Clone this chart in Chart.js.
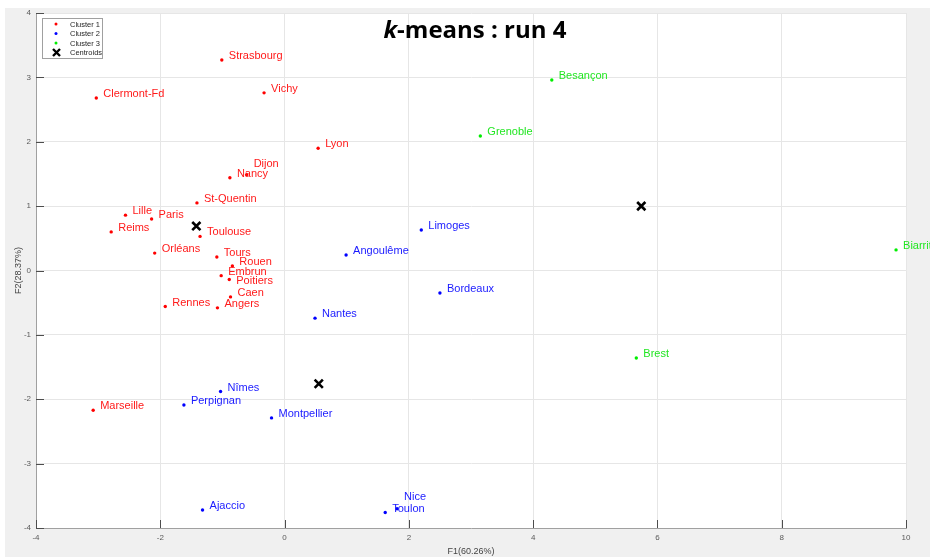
<!DOCTYPE html>
<html>
<head>
<meta charset="utf-8">
<script src="https://cdn.jsdelivr.net/npm/chart.js@4/dist/chart.umd.min.js"></script>
<style>
  html, body { margin: 0; padding: 0; background: #ffffff; }
  #wrap { width: 930px; height: 557px; }
</style>
</head>
<body>
<div id="wrap"><canvas id="c" width="930" height="557"></canvas></div>
<script>
// Cluster 1
const cluster1Cities = ['Strasbourg', 'Vichy', 'Clermont-Fd', 'Lyon', 'Nancy', 'Dijon', 'St-Quentin',
  'Lille', 'Paris', 'Reims', 'Toulouse', 'Orléans', 'Tours', 'Rouen', 'Embrun', 'Poitiers',
  'Caen', 'Angers', 'Rennes', 'Marseille'];
const cluster1F1 = [-1.01, -0.33, -3.03, 0.54, -0.88, -0.61, -1.41, -2.56, -2.14, -2.79, -1.36,
  -2.09, -1.09, -0.84, -1.02, -0.89, -0.87, -1.08, -1.92, -3.08];
const cluster1F2 = [3.27, 2.76, 2.68, 1.90, 1.44, 1.49, 1.05, 0.86, 0.80, 0.60, 0.53,
  0.27, 0.21, 0.07, -0.08, -0.14, -0.41, -0.58, -0.56, -2.17];

// Cluster 2
const cluster2Cities = ['Limoges', 'Angoulême', 'Bordeaux', 'Nantes', 'Nîmes', 'Perpignan',
  'Montpellier', 'Ajaccio', 'Toulon', 'Nice'];
const cluster2F1 = [2.20, 0.99, 2.50, 0.49, -1.03, -1.62, -0.21, -1.32, 1.62, 1.81];
const cluster2F2 = [0.63, 0.24, -0.35, -0.74, -1.88, -2.09, -2.29, -3.72, -3.76, -3.70];

// Cluster 3
const cluster3Cities = ['Besançon', 'Grenoble', 'Biarritz', 'Brest'];
const cluster3F1 = [4.30, 3.15, 9.84, 5.66];
const cluster3F2 = [2.96, 2.09, 0.32, -1.36];

// Centroids of clusters 1, 2, 3
const centroidF1 = [-1.42, 0.55, 5.74];
const centroidF2 = [0.69, -1.76, 1.00];

const seriesNames = ['Cluster 1', 'Cluster 2', 'Cluster 3', 'Centroids'];
const xTickValues = [-4, -2, 0, 2, 4, 6, 8, 10];
const yTickValues = [-4, -3, -2, -1, 0, 1, 2, 3, 4];
const xAxisTitle = 'F1(60.26%)';
const yAxisTitle = 'F2(28.37%)';

const colors = ['#ff0000', '#0000ff', '#00ee00'];
const textColors = ['#ff1a1a', '#1a1aff', '#22e622'];

function points(xs, ys) { return xs.map((x, i) => ({ x: x, y: ys[i] })); }

const clusters = [
  { names: cluster1Cities, xs: cluster1F1, ys: cluster1F2 },
  { names: cluster2Cities, xs: cluster2F1, ys: cluster2F2 },
  { names: cluster3Cities, xs: cluster3F1, ys: cluster3F2 }
];

// small vertical nudges for labels that would otherwise collide
const labelNudge = { 'Dijon': -7, 'Nice': -8, 'Poitiers': 5 };

const bgPlugin = {
  id: 'figureBackground',
  beforeDraw(chart) {
    const { ctx, chartArea: a } = chart;
    ctx.save();
    ctx.fillStyle = '#ffffff';
    ctx.fillRect(0, 0, chart.width, chart.height);
    ctx.fillStyle = '#f0f0f0';
    ctx.fillRect(5, 8, chart.width - 5, chart.height - 8);
    ctx.fillStyle = '#ffffff';
    ctx.fillRect(a.left, a.top, a.right - a.left, a.bottom - a.top);
    ctx.restore();
  }
};

const overlayPlugin = {
  id: 'overlay',
  afterDatasetsDraw(chart) {
    const { ctx, chartArea: a, scales } = chart;
    ctx.save();
    // inward tick marks
    ctx.strokeStyle = '#4d4d4d';
    ctx.lineWidth = 1;
    xTickValues.forEach(v => {
      const px = Math.round(scales.x.getPixelForValue(v)) + 0.5;
      ctx.beginPath(); ctx.moveTo(px, a.bottom); ctx.lineTo(px, a.bottom - 8); ctx.stroke();
    });
    yTickValues.forEach(v => {
      const py = Math.round(scales.y.getPixelForValue(v)) + 0.5;
      ctx.beginPath(); ctx.moveTo(a.left, py); ctx.lineTo(a.left + 8, py); ctx.stroke();
    });

    // city labels
    ctx.font = '11px "Liberation Sans", Arial, sans-serif';
    ctx.textAlign = 'left';
    ctx.textBaseline = 'alphabetic';
    clusters.forEach((cl, di) => {
      const meta = chart.getDatasetMeta(di);
      ctx.fillStyle = textColors[di];
      cl.names.forEach((name, i) => {
        const el = meta.data[i];
        const dy = labelNudge[name] || 0;
        ctx.fillText(name, el.x + 7, el.y - 1 + dy);
      });
    });

    // title
    const cx = 475, by = 38;
    const f1 = 'italic bold 24px "Open Sans", "Liberation Sans", sans-serif';
    const f2 = 'bold 24px "Open Sans", "Liberation Sans", sans-serif';
    const p1 = 'k', p2 = '-means : run 4';
    ctx.font = f1; const w1 = ctx.measureText(p1).width;
    ctx.font = f2; const w2 = ctx.measureText(p2).width;
    const x0 = cx - (w1 + w2) / 2;
    ctx.fillStyle = '#000000';
    ctx.font = f1; ctx.fillText(p1, x0, by);
    ctx.font = f2; ctx.fillText(p2, x0 + w1, by);

    // legend box
    const lx = 42.5, ly = 18.5, lw = 60, lh = 40;
    ctx.fillStyle = '#ffffff';
    ctx.fillRect(lx, ly, lw, lh);
    ctx.strokeStyle = '#a0a0a0';
    ctx.lineWidth = 1;
    ctx.strokeRect(lx, ly, lw, lh);
    const rows = [24, 33.5, 43, 52.5];
    ctx.font = '7.5px "Liberation Sans", Arial, sans-serif';
    ctx.textBaseline = 'middle';
    rows.forEach((ry, i) => {
      if (i < 3) {
        ctx.fillStyle = colors[i];
        ctx.beginPath(); ctx.arc(56, ry, 1.5, 0, Math.PI * 2); ctx.fill();
      } else {
        ctx.strokeStyle = '#000000';
        ctx.lineWidth = 2.4;
        ctx.beginPath();
        ctx.moveTo(53, ry - 3.5); ctx.lineTo(60, ry + 3.5);
        ctx.moveTo(60, ry - 3.5); ctx.lineTo(53, ry + 3.5);
        ctx.stroke();
      }
      ctx.fillStyle = '#262626';
      ctx.fillText(seriesNames[i], 70, ry + 0.5);
    });
    ctx.restore();
  }
};

const datasets = clusters.map((cl, i) => ({
  label: seriesNames[i],
  data: points(cl.xs, cl.ys),
  backgroundColor: colors[i],
  borderColor: colors[i],
  borderWidth: 0,
  pointRadius: 1.7,
  pointHoverRadius: 1.7
}));
datasets.push({
  label: seriesNames[3],
  data: points(centroidF1, centroidF2),
  pointStyle: 'crossRot',
  borderColor: '#000000',
  backgroundColor: '#000000',
  borderWidth: 2.6,
  pointRadius: 5.8,
  pointHoverRadius: 5.8
});

new Chart(document.getElementById('c'), {
  type: 'scatter',
  data: { datasets: datasets },
  options: {
    responsive: false,
    animation: false,
    devicePixelRatio: 1,
    layout: { padding: { left: 0, top: 13, right: 24, bottom: 0 } },
    plugins: { legend: { display: false }, tooltip: { enabled: false }, title: { display: false } },
    scales: {
      x: {
        type: 'linear', min: -4, max: 10,
        afterBuildTicks(s) { s.ticks = xTickValues.map(v => ({ value: v })); },
        afterFit(s) { s.height = 29; },
        grid: { color: '#e6e6e6', drawTicks: false },
        border: { display: true, color: '#a0a0a0', width: 1 },
        ticks: { padding: 5, color: '#5a5a5a', font: { size: 8, family: '"Liberation Sans", Arial, sans-serif' } },
        title: { display: true, text: xAxisTitle, color: '#444444', padding: { top: 0, bottom: 0 },
                 font: { size: 9, family: '"Liberation Sans", Arial, sans-serif' } }
      },
      y: {
        type: 'linear', min: -4, max: 4,
        afterBuildTicks(s) { s.ticks = yTickValues.map(v => ({ value: v })); },
        afterFit(s) { s.width = 36; },
        grid: { color: '#e6e6e6', drawTicks: false },
        border: { display: true, color: '#a0a0a0', width: 1 },
        ticks: { padding: 5, color: '#5a5a5a', font: { size: 8, family: '"Liberation Sans", Arial, sans-serif' } },
        title: { display: true, text: yAxisTitle, color: '#444444', padding: { top: 13, bottom: 0 },
                 font: { size: 9, family: '"Liberation Sans", Arial, sans-serif' } }
      }
    }
  },
  plugins: [bgPlugin, overlayPlugin]
});
</script>
</body>
</html>
